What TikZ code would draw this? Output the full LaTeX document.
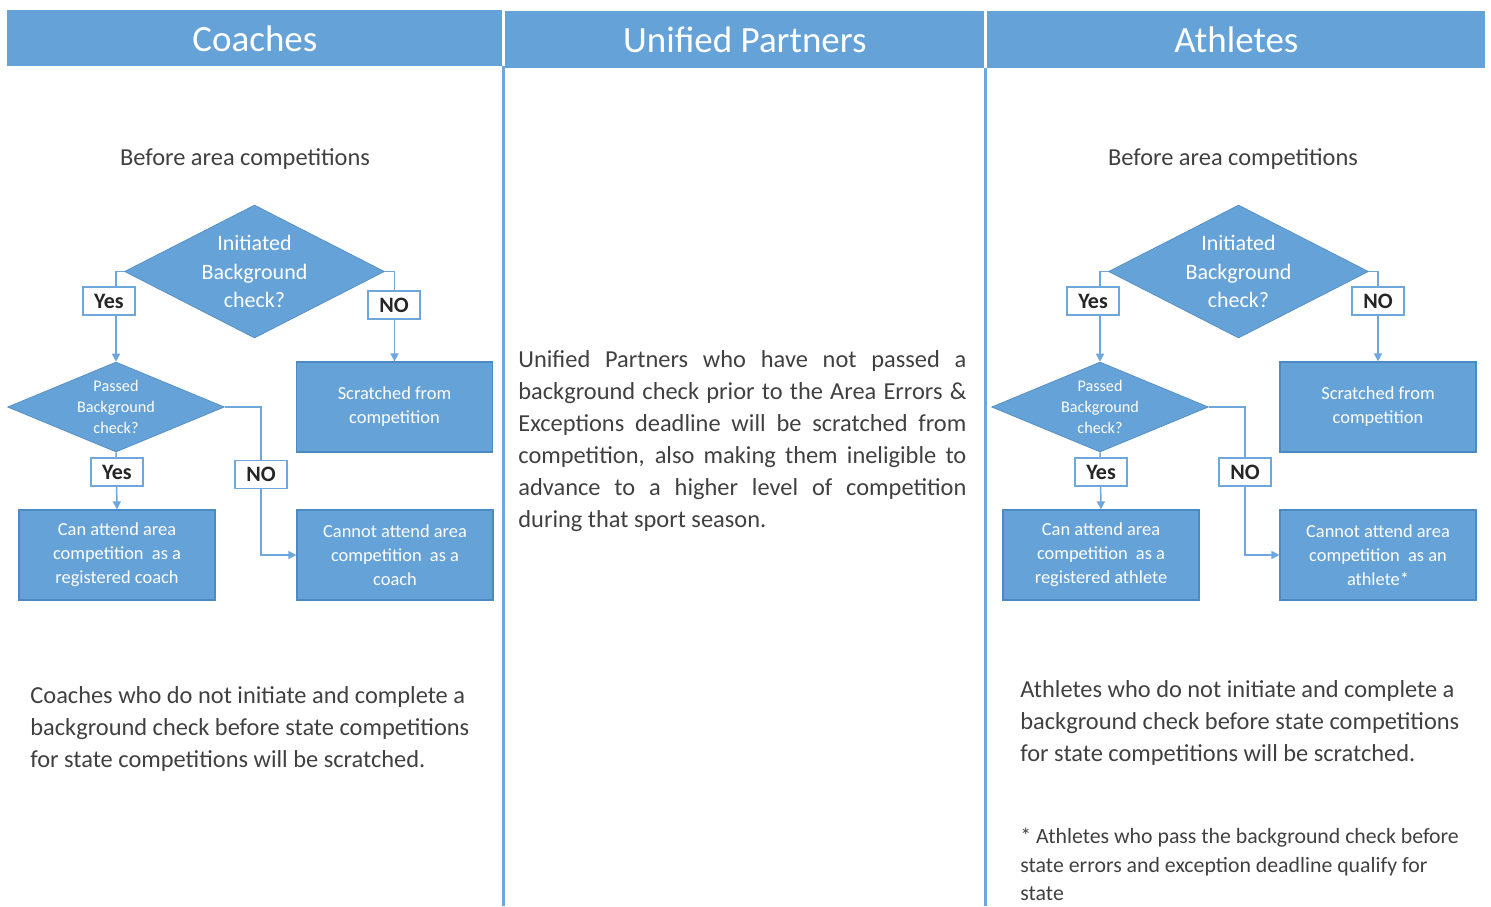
\documentclass[tikz,border=0pt]{standalone}
\usepackage{fontspec}
\setmainfont{Carlito}
\usetikzlibrary{shapes.geometric,arrows.meta,backgrounds}
\definecolor{boxblue}{RGB}{101,162,215}
\definecolor{boxedge}{RGB}{78,138,194}
\definecolor{lineblue}{RGB}{110,167,219}
\definecolor{textgray}{RGB}{64,64,64}

\begin{document}
\begin{tikzpicture}[%
      x=0.5pt, y=-0.5pt,
      header/.style={fill=boxblue, text=white, inner sep=0pt, anchor=north west,
        font=\fontsize{18.5}{22}\selectfont},
      plain/.style={text=textgray, inner sep=0pt, font=\fontsize{12.2}{16}\selectfont},
      bigq/.style={diamond, aspect=1.95, fill=boxblue, draw=boxedge, line width=0.3pt,
        text=white, align=center, inner sep=0pt, minimum width=130pt, minimum height=66.5pt,
        font=\fontsize{11}{14.25}\selectfont},
      smallq/.style={diamond, aspect=2.44, fill=boxblue, draw=boxedge, line width=0.3pt,
        text=white, align=center, inner sep=0pt, minimum width=108.5pt, minimum height=45pt,
        font=\fontsize{8.1}{10.5}\selectfont},
      result/.style={fill=boxblue, draw=boxedge, line width=0.6pt, text=white, align=center,
        inner sep=0pt, minimum width=98pt, minimum height=45pt,
        font=\fontsize{9.2}{12}\selectfont},
      tag/.style={fill=white, draw=lineblue, line width=0.75pt, text=black!85, inner sep=0pt,
        minimum width=26pt, minimum height=14pt, font=\bfseries\fontsize{11}{12}\selectfont},
      flow/.style={draw=lineblue, line width=0.75pt, -{Triangle[length=4pt,width=4pt]}},
      sepline/.style={draw=lineblue, line width=1.5pt},
      ]
      \useasboundingbox (0,0) rectangle (1491,906);

      % column headers
      \node [header, minimum width=247.5pt, minimum height=28pt] (c-head) at (7,10) {Coaches};
      \node [header, minimum width=239.5pt, minimum height=28.5pt] (u-head) at (505,11) {Unified Partners};
      \node [header, minimum width=249pt, minimum height=28.5pt] (a-head) at (987,11) {Athletes};
      \draw [sepline] (503,66) -- (503,906);
      \draw [sepline] (985,68) -- (985,906);

      % coaches
      \node [plain] (c-before) at (245,159) {Before area competitions};
      \node [bigq] (c-init) at (254.5,271.5) {Initiated\\Background\\check?};
      \node [smallq] (c-pass) at (116,407) {Passed\\Background\\check?};
      \node [result] (c-scr) at (394.5,407) {Scratched from\\competition};
      \node [result] (c-can) at (117,555) {Can attend area\\competition~ as a\\registered coach};
      \node [result] (c-cannot) at (395,555) {Cannot attend area\\competition~ as a\\coach};
      \node [tag] (c-yes1) at (109,301) {Yes};
      \node [tag] (c-no1) at (394,305) {NO};
      \node [tag] (c-yes2) at (117,472) {Yes};
      \node [tag] (c-no2) at (261,474.5) {NO};
      \node [plain, anchor=west, align=left] (c-note) at (30,729)
        {Coaches who do not initiate and complete a\\background check before state competitions\\for state competitions will be scratched.};

      % unified partners
      \node [plain, anchor=west, text width=224pt, align=justify] (u-note) at (518,441.5)
        {Unified Partners who have not passed a\linebreak background check prior to the Area Errors \&\linebreak Exceptions deadline will be scratched from\linebreak competition, also making them ineligible to\linebreak advance to a higher level of competition\linebreak during that sport season.};

      % athletes
      \node [plain] (a-before) at (1233,159) {Before area competitions};
      \node [bigq] (a-init) at (1238.5,271.5) {Initiated\\Background\\check?};
      \node [smallq] (a-pass) at (1100,407) {Passed\\Background\\check?};
      \node [result] (a-scr) at (1378,407) {Scratched from\\competition};
      \node [result] (a-can) at (1101,555) {Can attend area\\competition~ as a\\registered athlete};
      \node [result] (a-cannot) at (1378,555) {Cannot attend area\\competition~ as an\\athlete*};
      \node [tag] (a-yes1) at (1093,301) {Yes};
      \node [tag] (a-no1) at (1378,301) {NO};
      \node [tag] (a-yes2) at (1101,472) {Yes};
      \node [tag] (a-no2) at (1245,472) {NO};
      \node [plain, anchor=west, align=left] (a-note) at (1020,723)
        {Athletes who do not initiate and complete a\\background check before state competitions\\for state competitions will be scratched.};
      \node [plain, anchor=west, align=left, font=\fontsize{10.9}{14.25}\selectfont] (a-star) at (1020,864.5)
        {* Athletes who pass the background check before\\state errors and exception deadline qualify for\\state};

      \begin{scope}[on background layer]
      \draw [flow] (c-init.west) -| (c-pass.north);
      \draw [flow] (c-init.east) -| (c-scr.north);
      \draw [flow] (c-pass.south) -- (c-can.north);
      \draw [flow] (c-pass.east) -| (c-no2.center) |- (c-cannot.west);
      \draw [flow] (a-init.west) -| (a-pass.north);
      \draw [flow] (a-init.east) -| (a-scr.north);
      \draw [flow] (a-pass.south) -- (a-can.north);
      \draw [flow] (a-pass.east) -| (a-no2.center) |- (a-cannot.west);
      \end{scope}
      \end{tikzpicture}
\end{document}
